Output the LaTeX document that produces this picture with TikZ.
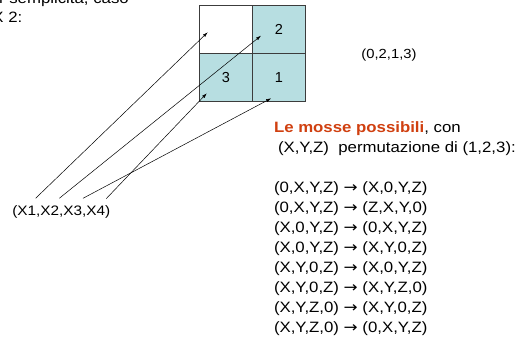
\documentclass[tikz,border=0pt]{standalone}
\usepackage{fontspec}
\setmainfont{Liberation Sans}
\newfontfamily\arrowfont{DejaVu Sans}
\usetikzlibrary{arrows.meta, positioning}
\definecolor{cellcyan}{RGB}{183,222,225}
\definecolor{mossered}{RGB}{208,64,16}
\definecolor{gridgray}{RGB}{60,60,60}
\newcommand{\tofrom}{{\arrowfont →}}

\begin{document}
\begin{tikzpicture}[x=1pt, y=-1pt,
    every node/.style={inner sep=0pt, outer sep=0pt},
    txt/.style={xscale=1.12, anchor=base west, font=\fontsize{15}{20}\selectfont},
    cell/.style={draw=gridgray, line width=1.3pt, fill=cellcyan,
      minimum width=53pt, minimum height=48pt, font=\fontsize{14.5}{17}\selectfont},
    link/.style={-{Latex[length=5pt, width=3.2pt]}, line width=0.5pt}]
    \useasboundingbox (0,0) rectangle (530,340);
    \clip (0,0) rectangle (530,340);

    % Intro, cut off at the top left
    \node[txt] (intro1) at (-21.5, 4) {Per semplicità, caso};
    \node[txt] (intro2) at (-21.5, 22.7) {2 X 2:};

    % Board 2 x 2
    \node[cell, fill=white] (cellA) at (225.8, 29.5) {};
    \node[cell, right=0pt of cellA] (cellB) {2};
    \node[cell, below=0pt of cellA] (cellC) {3};
    \node[cell, right=0pt of cellC] (cellD) {1};

    % Configuration
    \node[xscale=1.12, font=\fontsize{13.2}{16}\selectfont] (config) at (389, 55) {(0,2,1,3)};

    % Tuple and its links to the cells
    \node[xscale=1.12, font=\fontsize{13.7}{16}\selectfont] (tuple) at (61.3, 211.7) {(X1,X2,X3,X4)};
    \coordinate (x1) at (35.6, 198.3);
    \coordinate (x2) at (59.3, 198.3);
    \coordinate (x3) at (83, 198.3);
    \coordinate (x4) at (106.3, 198.6);
    \coordinate (p1) at (207.7, 32.3);
    \coordinate (p2) at (261, 35.7);
    \coordinate (p3) at (271.2, 98.3);
    \coordinate (p4) at (206.8, 93.3);
    \draw[link] (x1) -- (p1);
    \draw[link] (x2) -- (p2);
    \draw[link] (x3) -- (p3);
    \draw[link] (x4) -- (p4);

    % Moves
    \node[txt] (title) at (274, 132.2)
      {{\color{mossered}\bfseries Le mosse possibili}, con};
    \node[txt] (perm) at (278, 152.2) {(X,Y,Z)\ \ permutazione di (1,2,3):};
    \node[txt] (move1) at (274, 192.2) {(0,X,Y,Z) \tofrom{} (X,0,Y,Z)};
    \node[txt] (move2) at (274, 212.2) {(0,X,Y,Z) \tofrom{} (Z,X,Y,0)};
    \node[txt] (move3) at (274, 232.2) {(X,0,Y,Z) \tofrom{} (0,X,Y,Z)};
    \node[txt] (move4) at (274, 252.2) {(X,0,Y,Z) \tofrom{} (X,Y,0,Z)};
    \node[txt] (move5) at (274, 272.2) {(X,Y,0,Z) \tofrom{} (X,0,Y,Z)};
    \node[txt] (move6) at (274, 292.2) {(X,Y,0,Z) \tofrom{} (X,Y,Z,0)};
    \node[txt] (move7) at (274, 312.2) {(X,Y,Z,0) \tofrom{} (X,Y,0,Z)};
    \node[txt] (move8) at (274, 332.2) {(X,Y,Z,0) \tofrom{} (0,X,Y,Z)};
\end{tikzpicture}
\end{document}
